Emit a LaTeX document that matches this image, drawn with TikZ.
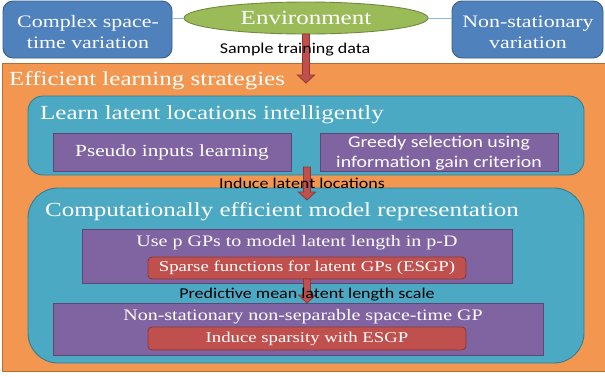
\documentclass[tikz,border=0pt]{standalone}
\usepackage{fontspec}
\setmainfont{Liberation Serif}[FakeStretch=1.25]
\newfontfamily\labelfont{Carlito}[FakeStretch=1.2]
\usetikzlibrary{calc,shapes.geometric}
\definecolor{oBlue}{HTML}{4F81BD}\definecolor{oBlueD}{HTML}{385D8A}
\definecolor{oGreen}{HTML}{9BBB59}\definecolor{oGreenD}{HTML}{71893F}
\definecolor{oOrange}{HTML}{F39750}\definecolor{oOrangeD}{HTML}{B66D31}
\definecolor{oTeal}{HTML}{4BA9C4}\definecolor{oTealD}{HTML}{357D91}
\definecolor{oPurple}{HTML}{8064A2}\definecolor{oPurpleD}{HTML}{5C4776}
\definecolor{oRed}{HTML}{C0504D}\definecolor{oRedD}{HTML}{8C3836}
\definecolor{oLine}{HTML}{8EB4E3}
\newcommand\fs[2]{\fontsize{#1}{#2}\selectfont}
\newcommand\blockarrow[2]{%
  \path[barrow] let \p1=(#1), \p2=(#2) in
  (\x1-3.5pt,\y1) -- (\x1-3.5pt,\y2+8pt) -- (\x1-8.5pt,\y2+8pt) -- (\x1,\y2)
  -- (\x1+8.5pt,\y2+8pt) -- (\x1+3.5pt,\y2+8pt) -- (\x1+3.5pt,\y1) -- cycle;}
\begin{document}
\begin{tikzpicture}[x=1pt,y=-1pt,
  base/.style={inner sep=0pt, outer sep=0pt, line width=0.9pt, anchor=center},
  bluebox/.style={base, fill=oBlue, draw=oBlueD, rounded corners=10pt},
  envell/.style={base, ellipse, fill=oGreen, draw=oGreenD, text=white, font=\fs{20}{24}},
  orangebox/.style={base, fill=oOrange, draw=oOrangeD},
  tealbox/.style={base, fill=oTeal, draw=oTealD},
  purplebox/.style={base, fill=oPurple, draw=oPurpleD},
  redbox/.style={base, fill=oRed, draw=oRedD, rounded corners=4pt},
  title/.style={inner sep=0pt, anchor=west, text=white, font=\fs{20}{24}},
  wtext/.style={inner sep=0pt, text=white, align=center},
  lbl/.style={inner sep=0pt, text=black, font=\labelfont\fs{15}{18}},
  conn/.style={draw=oLine, line width=1pt},
  barrow/.style={fill=oRed, draw=oRedD, line width=0.8pt}]
\useasboundingbox (0,0) rectangle (605,376);
\clip (0,0) rectangle (605,376);
\fill[white] (0,0) rectangle (605,376);
% top row
\node[bluebox, minimum width=169pt, minimum height=57pt] (lb) at (87.5,29.5) {};
\node[wtext, font=\fs{17.5}{21}] (lbt) at (88,32) {Complex space-\\time variation};
\node[bluebox, minimum width=151pt, minimum height=57pt] (rb) at (527.5,29.5) {};
\node[wtext, font=\fs{17.5}{21}] (rbt) at (528,32) {Non-stationary\\variation};
\node[envell, minimum width=244pt, minimum height=32pt] (env) at (306,18) {Environment};
\draw[conn] (env.west) -- (env.west -| lb.east);
\draw[conn] (env.east) -- (env.east -| rb.west);
% outer orange
\draw[orangebox] (2,63) rectangle (612,371);
\node[title] (t0) at (9,81) {Efficient learning strategies};
% teal 1
\draw[tealbox, rounded corners=15pt] (28,96) rectangle (584,175);
\node[title] (t1) at (40,115) {Learn latent locations intelligently};
\node[purplebox, minimum width=238pt, minimum height=38pt] (p1) at (172,152) {};
\node[wtext, font=\fs{17}{20}] at (p1) {Pseudo inputs learning};
\node[purplebox, minimum width=238pt, minimum height=38pt] (p2) at (439,152) {};
\node[wtext, font=\labelfont\fs{16.5}{19.5}] at (439,153) {Greedy selection using\\information gain criterion};
% teal 2
\draw[tealbox, rounded corners=30pt] (28,188) rectangle (584,363);
\node[title] (t2) at (45,212) {Computationally efficient model representation};
\node[purplebox, minimum width=430pt, minimum height=54pt] (p3) at (297,256) {};
\node[wtext, font=\fs{16}{19}] (p3t) at (297,243) {Use p GPs to model latent length in p-D};
\node[redbox, minimum width=318pt, minimum height=22pt] (r1) at (307,268) {};
\node[wtext, font=\fs{15}{18}] at (r1) {Sparse functions for latent GPs (ESGP)};
\node[purplebox, minimum width=490pt, minimum height=52pt] (p4) at (298,329) {};
\node[wtext, font=\fs{16}{19}] (p4t) at (303,317) {Non-stationary non-separable space-time GP};
\node[redbox, minimum width=318pt, minimum height=23pt] (r2) at (307,338.5) {};
\node[wtext, font=\fs{15}{18}] at (r2) {Induce sparsity with ESGP};
% arrows
\coordinate (a1e) at (306,83);
\coordinate (a2s) at (307,167);
\coordinate (a2e) at (307,200);
\coordinate (a3e) at (307,303);
\blockarrow{env.south}{a1e}
\blockarrow{a2s}{a2e}
\blockarrow{r1.south}{a3e}
% labels
\node[lbl] (l1) at (295,50) {Sample training data};
\node[lbl] (l2) at (302,183) {Induce latent locations};
\node[lbl] (l3) at (307,295) {Predictive mean latent length scale};
\end{tikzpicture}
\end{document}
